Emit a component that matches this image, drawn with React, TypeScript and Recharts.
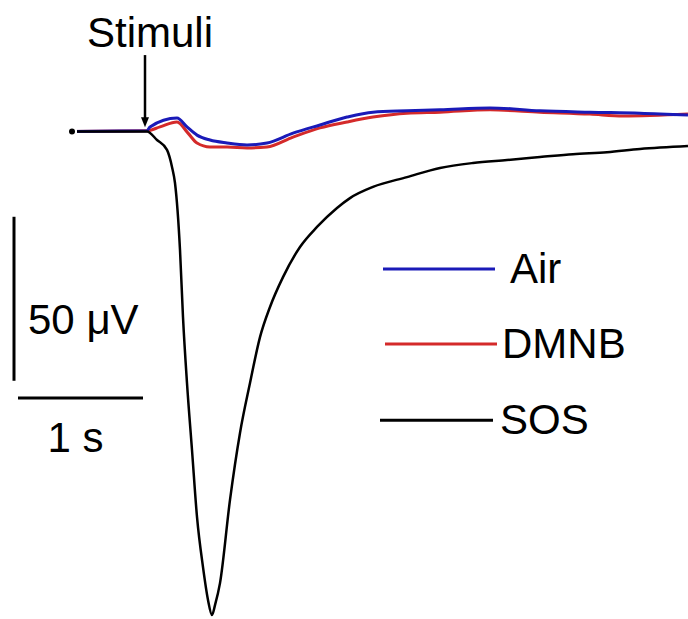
import React from 'react';
import { LineChart, Line, XAxis, YAxis, ReferenceLine } from 'recharts';

// time in s (0 = stimulus), response in µV (0 = baseline)
const sosTime = [-0.6, 0, 0.08, 0.16, 0.2, 0.224, 0.264, 0.288, 0.32, 0.36, 0.4, 0.448, 0.488, 0.52, 0.544, 0.584, 0.664, 0.744, 0.824, 0.904, 0.984, 1.088, 1.224, 1.36, 1.52, 1.624, 1.808, 2.08, 2.344, 2.608, 2.88, 3.144, 3.408, 3.68, 3.944, 4.328];
const sosUv = [0, 0, -2.6, -5.6, -10.8, -15.7, -36.1, -56.6, -76.7, -97.1, -117.5, -132.8, -142.8, -147.4, -144.4, -137.7, -112.3, -91.9, -76.7, -62.7, -53.5, -44.4, -35.2, -29.1, -23.3, -20.3, -16.9, -13.9, -11.1, -9.6, -8.7, -7.8, -6.9, -6.3, -5.3, -4.4];

const airTime = [-0.6, 0, 0.024, 0.24, 0.32, 0.4, 0.504, 0.64, 0.8, 0.96, 1.168, 1.384, 1.6, 1.808, 2.08, 2.344, 2.744, 3.144, 3.544, 3.944, 4.328];
const airUv = [0, 0.2, 1.4, 4.1, 1.4, -1.1, -2.6, -3.5, -4.1, -3.5, -0.5, 2.0, 4.4, 5.9, 6.3, 6.6, 7.2, 6.3, 5.9, 5.6, 5.0];

const dmnbTime = [-0.6, 0, 0.104, 0.24, 0.328, 0.4, 0.504, 0.64, 0.8, 0.96, 1.168, 1.384, 1.6, 1.808, 2.08, 2.344, 2.744, 3.144, 3.544, 3.808, 4.328];
const dmnbUv = [0, 0.2, 1.4, 2.9, -0.5, -3.5, -4.7, -4.7, -5.0, -4.7, -1.7, 1.1, 2.9, 4.4, 5.6, 5.9, 6.6, 5.9, 5.3, 4.7, 5.3];

const legendNames = ['Air', 'DMNB', 'SOS'];
const legendColors = ['#1a1ab8', '#d42a2a', '#000000'];

const toPoints = (t: number[], v: number[]) => t.map((x, i) => ({ t: x, v: v[i] }));

const W = 688;
const H = 619;
const PX_PER_S = 125;
const PX_PER_UV = 3.28;
const STIM_X = 147;
const BASE_Y = 131.5;
const FONT = '"Liberation Sans", Arial, sans-serif';

const xDomain = [-STIM_X / PX_PER_S, (W - STIM_X) / PX_PER_S];
const yDomain = [(BASE_Y - H) / PX_PER_UV, BASE_Y / PX_PER_UV];

// legend swatches, placed in data units (s, µV)
const legendRows = [
  { t1: 1.888, t2: 2.784, v: -41.9, gap: 15 },
  { t1: 1.904, t2: 2.8, v: -64.8, gap: 5 },
  { t1: 1.864, t2: 2.768, v: -88.0, gap: 7 },
];

const StimArrow = (props: any) => {
  const { x1, y1, x2, y2 } = props;
  const top = Math.min(y1, y2);
  const tip = Math.max(y1, y2);
  return (
    <g>
      <text x={x1 + 5} y={top - 8} textAnchor="middle" fontSize={42} fontFamily={FONT} fill="#000">
        Stimuli
      </text>
      <line x1={x1} y1={top} x2={x2} y2={tip - 8} stroke="#000" strokeWidth={2.5} />
      <polygon points={`${x2 - 4},${tip - 10} ${x2 + 4},${tip - 10} ${x2},${tip}`} fill="#000" />
    </g>
  );
};

const VBar = (props: any) => {
  const { x1, y1, x2, y2 } = props;
  return (
    <g>
      <line x1={x1} y1={y1} x2={x2} y2={y2} stroke="#000" strokeWidth={3} />
      <text x={x1 + 14} y={Math.max(y1, y2) - 47} fontSize={42} fontFamily={FONT} fill="#000">
        50 μV
      </text>
    </g>
  );
};

const HBar = (props: any) => {
  const { x1, y1, x2, y2 } = props;
  return (
    <g>
      <line x1={x1} y1={y1} x2={x2} y2={y2} stroke="#000" strokeWidth={3} />
      <text x={(x1 + x2) / 2 - 5} y={y1 + 54} textAnchor="middle" fontSize={42} fontFamily={FONT} fill="#000">
        1 s
      </text>
    </g>
  );
};

const legendShape = (i: number) => (props: any) => {
  const { x1, y1, x2, y2 } = props;
  return (
    <g>
      <line x1={x1} y1={y1} x2={x2} y2={y2} stroke={legendColors[i]} strokeWidth={3} />
      <text x={x2 + legendRows[i].gap} y={y1 + 14} fontSize={42} fontFamily={FONT} fill="#000">
        {legendNames[i]}
      </text>
    </g>
  );
};

export default function App() {
  return (
    <div style={{ position: 'absolute', left: 0, top: 0, width: W, height: H, background: '#fff' }}>
      <LineChart width={W} height={H} margin={{ top: 0, right: 0, bottom: 0, left: 0 }}>
        <XAxis type="number" dataKey="t" domain={xDomain} allowDataOverflow hide />
        <YAxis type="number" dataKey="v" domain={yDomain} allowDataOverflow hide />
        <ReferenceLine
          segment={[{ x: -1.064, y: -26 }, { x: -1.064, y: -76 }]}
          ifOverflow="visible"
          shape={VBar}
        />
        <ReferenceLine
          segment={[{ x: -1.032, y: -81.25 }, { x: -0.032, y: -81.25 }]}
          ifOverflow="visible"
          shape={HBar}
        />
        <ReferenceLine
          segment={[{ x: -0.016, y: 23.3 }, { x: -0.016, y: 1.3 }]}
          ifOverflow="visible"
          shape={StimArrow}
        />
        {legendRows.map((r, i) => (
          <ReferenceLine
            key={legendNames[i]}
            segment={[{ x: r.t1, y: r.v }, { x: r.t2, y: r.v }]}
            ifOverflow="visible"
            shape={legendShape(i)}
          />
        ))}
        <Line data={toPoints(dmnbTime, dmnbUv)} dataKey="v" name="DMNB" type="monotone" stroke={legendColors[1]} strokeWidth={3} dot={false} isAnimationActive={false} />
        <Line data={toPoints(airTime, airUv)} dataKey="v" name="Air" type="monotone" stroke={legendColors[0]} strokeWidth={3} dot={false} isAnimationActive={false} />
        <Line data={toPoints(sosTime, sosUv)} dataKey="v" name="SOS" type="monotone" stroke={legendColors[2]} strokeWidth={2.5} dot={false} isAnimationActive={false} />
      </LineChart>
    </div>
  );
}
